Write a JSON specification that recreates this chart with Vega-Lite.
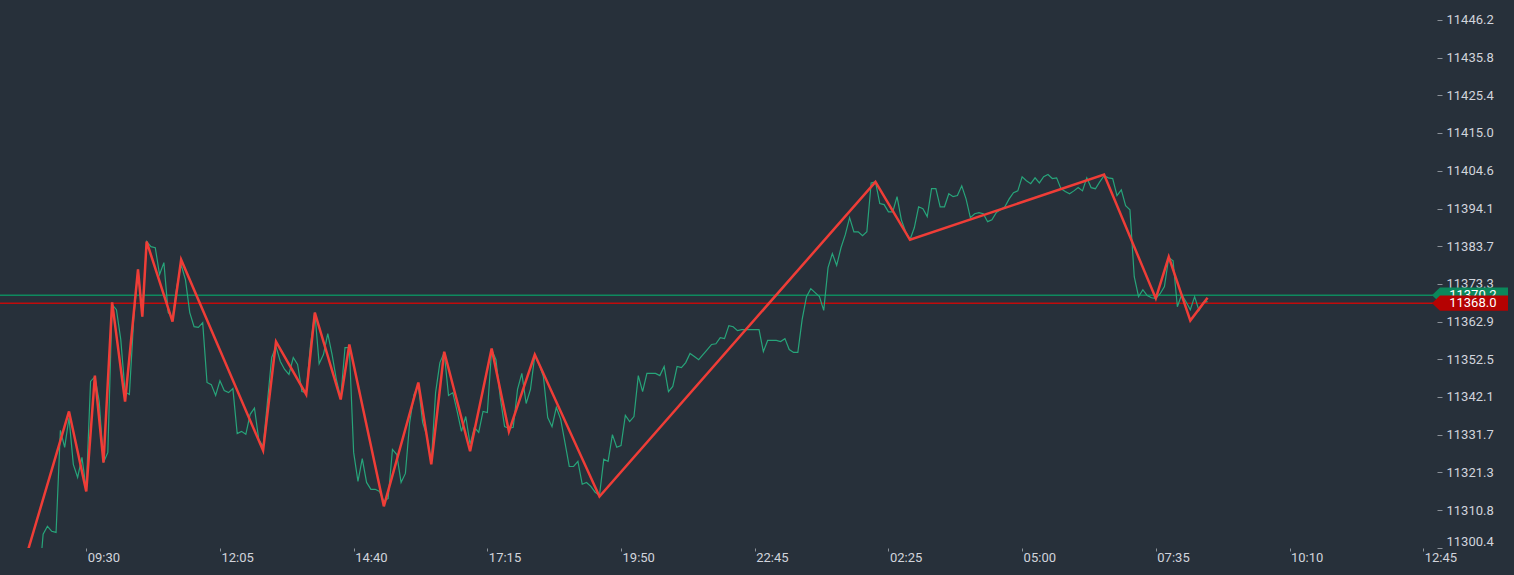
{
  "$schema": "https://vega.github.io/schema/vega-lite/v6.json",
  "width": 1437,
  "height": 548,
  "autosize": {"type": "none"},
  "padding": {"left": 0, "top": 0, "right": 77, "bottom": 27},
  "background": "#27303a",
  "config": {"view": {"stroke": null}, "font": "Roboto"},
  "datasets": {
    "series": [
      {"bar":9,"close":11290.1},{"bar":10,"close":11304.2},{"bar":11,"close":11306.4},{"bar":12,"close":11305.0},{"bar":13,"close":11304.7},{"bar":14,"close":11332.9},{"bar":15,"close":11328.2},{"bar":16,"close":11336.4},{"bar":17,"close":11323.5},{"bar":18,"close":11319.9},{"bar":19,"close":11325.4},{"bar":20,"close":11316.6},{"bar":21,"close":11346.4},{"bar":22,"close":11347.7},{"bar":23,"close":11340.9},{"bar":24,"close":11324.0},{"bar":25,"close":11326.8},{"bar":26,"close":11367.6},{"bar":27,"close":11366.2},{"bar":28,"close":11358.0},{"bar":29,"close":11343.5},{"bar":30,"close":11342.8},{"bar":31,"close":11363.5},{"bar":32,"close":11377.3},{"bar":33,"close":11364.3},{"bar":34,"close":11385.0},{"bar":35,"close":11383.6},{"bar":36,"close":11383.3},{"bar":37,"close":11375.9},{"bar":38,"close":11379.2},{"bar":39,"close":11365.4},{"bar":40,"close":11364.0},{"bar":41,"close":11372.6},{"bar":42,"close":11378.6},{"bar":43,"close":11374.5},{"bar":44,"close":11365.4},{"bar":45,"close":11361.5},{"bar":46,"close":11361.3},{"bar":47,"close":11362.6},{"bar":48,"close":11346.1},{"bar":49,"close":11345.5},{"bar":50,"close":11342.5},{"bar":51,"close":11346.6},{"bar":52,"close":11343.9},{"bar":53,"close":11343.3},{"bar":54,"close":11344.4},{"bar":55,"close":11332.0},{"bar":56,"close":11332.6},{"bar":57,"close":11331.8},{"bar":58,"close":11337.3},{"bar":59,"close":11339.0},{"bar":60,"close":11330.4},{"bar":61,"close":11328.4},{"bar":62,"close":11340.6},{"bar":63,"close":11353.0},{"bar":64,"close":11356.0},{"bar":65,"close":11351.9},{"bar":66,"close":11349.7},{"bar":67,"close":11348.3},{"bar":68,"close":11353.0},{"bar":69,"close":11351.1},{"bar":70,"close":11343.6},{"bar":71,"close":11343.3},{"bar":72,"close":11356.6},{"bar":73,"close":11365.4},{"bar":74,"close":11351.3},{"bar":75,"close":11353.8},{"bar":76,"close":11359.6},{"bar":77,"close":11353.8},{"bar":78,"close":11346.9},{"bar":79,"close":11341.9},{"bar":80,"close":11355.7},{"bar":81,"close":11355.7},{"bar":82,"close":11326.8},{"bar":83,"close":11318.8},{"bar":84,"close":11325.1},{"bar":85,"close":11318.5},{"bar":86,"close":11316.6},{"bar":87,"close":11316.6},{"bar":88,"close":11316.0},{"bar":89,"close":11313.3},{"bar":90,"close":11314.1},{"bar":91,"close":11327.6},{"bar":92,"close":11326.2},{"bar":93,"close":11318.5},{"bar":94,"close":11321.0},{"bar":95,"close":11335.1},{"bar":96,"close":11342.8},{"bar":97,"close":11345.3},{"bar":98,"close":11335.1},{"bar":99,"close":11331.2},{"bar":100,"close":11324.0},{"bar":101,"close":11343.3},{"bar":102,"close":11351.6},{"bar":103,"close":11354.4},{"bar":104,"close":11342.5},{"bar":105,"close":11343.3},{"bar":106,"close":11338.1},{"bar":107,"close":11332.6},{"bar":108,"close":11336.7},{"bar":109,"close":11329.0},{"bar":110,"close":11333.7},{"bar":111,"close":11332.3},{"bar":112,"close":11338.1},{"bar":113,"close":11337.8},{"bar":114,"close":11355.2},{"bar":115,"close":11352.4},{"bar":116,"close":11341.9},{"bar":117,"close":11333.9},{"bar":118,"close":11333.4},{"bar":119,"close":11333.7},{"bar":120,"close":11344.2},{"bar":121,"close":11348.6},{"bar":122,"close":11340.3},{"bar":123,"close":11344.2},{"bar":124,"close":11353.5},{"bar":125,"close":11351.1},{"bar":126,"close":11347.7},{"bar":127,"close":11336.4},{"bar":128,"close":11333.9},{"bar":129,"close":11339.2},{"bar":130,"close":11336.0},{"bar":131,"close":11329.5},{"bar":132,"close":11322.9},{"bar":133,"close":11322.9},{"bar":134,"close":11324.3},{"bar":135,"close":11318.0},{"bar":136,"close":11318.5},{"bar":137,"close":11317.4},{"bar":138,"close":11315.8},{"bar":139,"close":11314.9},{"bar":140,"close":11324.9},{"bar":141,"close":11324.3},{"bar":142,"close":11331.7},{"bar":143,"close":11328.2},{"bar":144,"close":11328.7},{"bar":145,"close":11337.0},{"bar":146,"close":11335.3},{"bar":147,"close":11336.7},{"bar":148,"close":11348.0},{"bar":149,"close":11343.6},{"bar":150,"close":11348.6},{"bar":151,"close":11348.6},{"bar":152,"close":11348.6},{"bar":153,"close":11348.0},{"bar":154,"close":11350.5},{"bar":155,"close":11343.6},{"bar":156,"close":11345.0},{"bar":157,"close":11350.5},{"bar":158,"close":11350.2},{"bar":159,"close":11351.6},{"bar":160,"close":11354.1},{"bar":161,"close":11353.3},{"bar":162,"close":11352.4},{"bar":163,"close":11353.8},{"bar":164,"close":11355.2},{"bar":165,"close":11356.6},{"bar":166,"close":11356.8},{"bar":167,"close":11358.5},{"bar":168,"close":11358.2},{"bar":169,"close":11361.8},{"bar":170,"close":11361.5},{"bar":171,"close":11360.4},{"bar":172,"close":11360.7},{"bar":173,"close":11360.7},{"bar":174,"close":11360.7},{"bar":175,"close":11360.7},{"bar":176,"close":11360.7},{"bar":177,"close":11354.6},{"bar":178,"close":11357.7},{"bar":179,"close":11357.7},{"bar":180,"close":11357.7},{"bar":181,"close":11357.4},{"bar":182,"close":11358.2},{"bar":183,"close":11355.2},{"bar":184,"close":11354.4},{"bar":185,"close":11354.4},{"bar":186,"close":11363.5},{"bar":187,"close":11369.8},{"bar":188,"close":11372.0},{"bar":189,"close":11370.9},{"bar":190,"close":11369.8},{"bar":191,"close":11366.0},{"bar":192,"close":11377.8},{"bar":193,"close":11381.7},{"bar":194,"close":11378.4},{"bar":195,"close":11383.3},{"bar":196,"close":11386.9},{"bar":197,"close":11391.6},{"bar":198,"close":11387.7},{"bar":199,"close":11387.7},{"bar":200,"close":11386.6},{"bar":201,"close":11387.7},{"bar":202,"close":11401.2},{"bar":203,"close":11401.5},{"bar":204,"close":11395.5},{"bar":205,"close":11395.2},{"bar":206,"close":11393.2},{"bar":207,"close":11393.2},{"bar":208,"close":11397.4},{"bar":209,"close":11391.0},{"bar":210,"close":11387.7},{"bar":211,"close":11385.5},{"bar":212,"close":11388.8},{"bar":213,"close":11394.6},{"bar":214,"close":11394.1},{"bar":215,"close":11391.9},{"bar":216,"close":11399.6},{"bar":217,"close":11399.6},{"bar":218,"close":11394.6},{"bar":219,"close":11394.6},{"bar":220,"close":11398.2},{"bar":221,"close":11397.4},{"bar":222,"close":11397.7},{"bar":223,"close":11400.4},{"bar":224,"close":11396.8},{"bar":225,"close":11391.6},{"bar":226,"close":11392.7},{"bar":227,"close":11393.0},{"bar":228,"close":11392.7},{"bar":229,"close":11390.5},{"bar":230,"close":11391.0},{"bar":231,"close":11393.0},{"bar":232,"close":11393.8},{"bar":233,"close":11394.6},{"bar":234,"close":11396.8},{"bar":235,"close":11398.5},{"bar":236,"close":11399.0},{"bar":237,"close":11402.9},{"bar":238,"close":11401.8},{"bar":239,"close":11401.0},{"bar":240,"close":11402.6},{"bar":241,"close":11401.2},{"bar":242,"close":11402.9},{"bar":243,"close":11403.5},{"bar":244,"close":11402.4},{"bar":245,"close":11402.6},{"bar":246,"close":11399.6},{"bar":247,"close":11398.8},{"bar":248,"close":11398.2},{"bar":249,"close":11399.0},{"bar":250,"close":11399.9},{"bar":251,"close":11399.0},{"bar":252,"close":11402.6},{"bar":253,"close":11399.9},{"bar":254,"close":11399.6},{"bar":255,"close":11401.5},{"bar":256,"close":11403.2},{"bar":257,"close":11402.6},{"bar":258,"close":11402.4},{"bar":259,"close":11397.7},{"bar":260,"close":11399.3},{"bar":261,"close":11394.9},{"bar":262,"close":11393.8},{"bar":263,"close":11375.3},{"bar":264,"close":11369.8},{"bar":265,"close":11371.7},{"bar":266,"close":11370.1},{"bar":267,"close":11369.5},{"bar":268,"close":11369.3},{"bar":269,"close":11370.6},{"bar":270,"close":11372.6},{"bar":271,"close":11380.6},{"bar":272,"close":11379.7},{"bar":273,"close":11367.0},{"bar":274,"close":11370.4},{"bar":275,"close":11368.4},{"bar":276,"close":11366.2},{"bar":277,"close":11369.8},{"bar":278,"close":11366.0},{"bar":279,"close":11368.2},{"bar":280,"close":11368.4}
    ],
    "zigzag": [
      {"bar":6,"price":11297.8},{"bar":16,"price":11338.1},{"bar":20,"price":11316.0},{"bar":22,"price":11348.0},{"bar":24,"price":11324.0},{"bar":26,"price":11368.2},{"bar":29,"price":11340.8},{"bar":32,"price":11377.3},{"bar":33,"price":11364.3},{"bar":34,"price":11385.0},{"bar":40,"price":11362.9},{"bar":42,"price":11380.0},{"bar":61,"price":11327.3},{"bar":64,"price":11357.4},{"bar":71,"price":11342.8},{"bar":73,"price":11365.4},{"bar":79,"price":11341.4},{"bar":81,"price":11356.6},{"bar":89,"price":11311.9},{"bar":97,"price":11346.1},{"bar":100,"price":11323.5},{"bar":103,"price":11354.6},{"bar":109,"price":11327.1},{"bar":114,"price":11355.5},{"bar":118,"price":11332.6},{"bar":124,"price":11353.8},{"bar":139,"price":11314.6},{"bar":203,"price":11401.5},{"bar":211,"price":11385.5},{"bar":256,"price":11403.5},{"bar":268,"price":11369.3},{"bar":271,"price":11380.8},{"bar":276,"price":11363.2},{"bar":280,"price":11369.5}
    ],
    "levels": [
      {"kind":"last","price":11370.2},
      {"kind":"ref","price":11368.0}
    ]
  },
  "layer": [
    {
      "data": {"name": "levels"},
      "mark": {"type": "rule", "strokeWidth": 1.5},
      "encoding": {
        "y": {"field": "price", "type": "quantitative", "title": null, "scale": {"domain": [11300.4, 11451.7], "nice": false, "zero": false}},
        "color": {"field": "kind", "type": "nominal", "legend": null, "scale": {"domain": ["last", "ref"], "range": ["#0e8a5e", "#c20b0b"]}}
      }
    },
    {
      "data": {"name": "series"},
      "mark": {"type": "line", "color": "#27a47a", "strokeWidth": 1.2, "clip": true},
      "encoding": {
        "x": {"field": "bar", "type": "quantitative", "title": null,
          "scale": {"domain": [0, 333.2], "nice": false, "zero": false},
          "axis": {"values": [20, 51, 82, 113, 144, 175, 206, 237, 268, 299, 330], "tickCount": 40,
            "labelExpr": "['09:30','12:05','14:40','17:15','19:50','22:45','02:25','05:00','07:35','10:10','12:45'][round((datum.value-20)/31)]",
            "labelAlign": "left", "labelBaseline": "top", "labelFont": "Roboto", "labelFontSize": 13, "labelColor": "#d1d4dc",
            "labelPadding": 0, "labelOffset": 1, "labelFlush": false, "labelOverlap": false,
            "tickColor": "#8b9199", "tickSize": 3, "tickWidth": 1, "domain": false, "grid": false}},
        "y": {"field": "close", "type": "quantitative", "title": null,
          "scale": {"domain": [11300.4, 11451.7], "nice": false, "zero": false},
          "axis": {"orient": "right", "tickCount": 30,
            "values": [11300.4, 11310.8, 11321.3, 11331.7, 11342.1, 11352.5, 11362.9, 11373.3, 11383.7, 11394.1, 11404.6, 11415.0, 11425.4, 11435.8, 11446.2],
            "format": ".1f", "labelFont": "Roboto", "labelFontSize": 13, "labelColor": "#d1d4dc",
            "labelPadding": 4, "labelFlush": true, "labelOverlap": false,
            "tickColor": "#8b9199", "tickSize": 5, "tickWidth": 1, "domain": false, "grid": false}}
      }
    },
    {
      "data": {"name": "zigzag"},
      "mark": {"type": "line", "color": "#ef3d37", "strokeWidth": 2.5, "clip": true},
      "encoding": {
        "x": {"field": "bar", "type": "quantitative", "title": null, "scale": {"domain": [0, 333.2], "nice": false, "zero": false}},
        "y": {"field": "price", "type": "quantitative", "title": null, "scale": {"domain": [11300.4, 11451.7], "nice": false, "zero": false}}
      }
    },
    {
      "data": {"name": "levels"},
      "transform": [{"filter": "datum.kind === 'last'"}],
      "layer": [
        {
          "mark": {"type": "point", "filled": true, "opacity": 1, "size": 5776, "shape": "M -1 0 L -0.79 -0.2 L 1 -0.2 L 1 0.2 L -0.79 0.2 Z", "color": "#0b875b", "strokeWidth": 0},
          "encoding": {
            "x": {"datum": 340.85, "type": "quantitative", "title": null},
            "y": {"field": "price", "type": "quantitative", "title": null}
          }
        },
        {
          "mark": {"type": "text", "color": "#ffffff", "font": "Roboto", "fontSize": 13, "align": "center", "baseline": "middle"},
          "encoding": {
            "x": {"datum": 341.5, "type": "quantitative", "title": null},
            "y": {"field": "price", "type": "quantitative", "title": null},
            "text": {"field": "price", "type": "quantitative", "format": ".1f"}
          }
        }
      ]
    },
    {
      "data": {"name": "levels"},
      "transform": [{"filter": "datum.kind === 'ref'"}],
      "layer": [
        {
          "mark": {"type": "point", "filled": true, "opacity": 1, "size": 5776, "shape": "M -1 0 L -0.79 -0.2 L 1 -0.2 L 1 0.2 L -0.79 0.2 Z", "color": "#b50202", "strokeWidth": 0},
          "encoding": {
            "x": {"datum": 340.85, "type": "quantitative", "title": null},
            "y": {"field": "price", "type": "quantitative", "title": null}
          }
        },
        {
          "mark": {"type": "text", "color": "#ffffff", "font": "Roboto", "fontSize": 13, "align": "center", "baseline": "middle"},
          "encoding": {
            "x": {"datum": 341.5, "type": "quantitative", "title": null},
            "y": {"field": "price", "type": "quantitative", "title": null},
            "text": {"field": "price", "type": "quantitative", "format": ".1f"}
          }
        }
      ]
    }
  ]
}
